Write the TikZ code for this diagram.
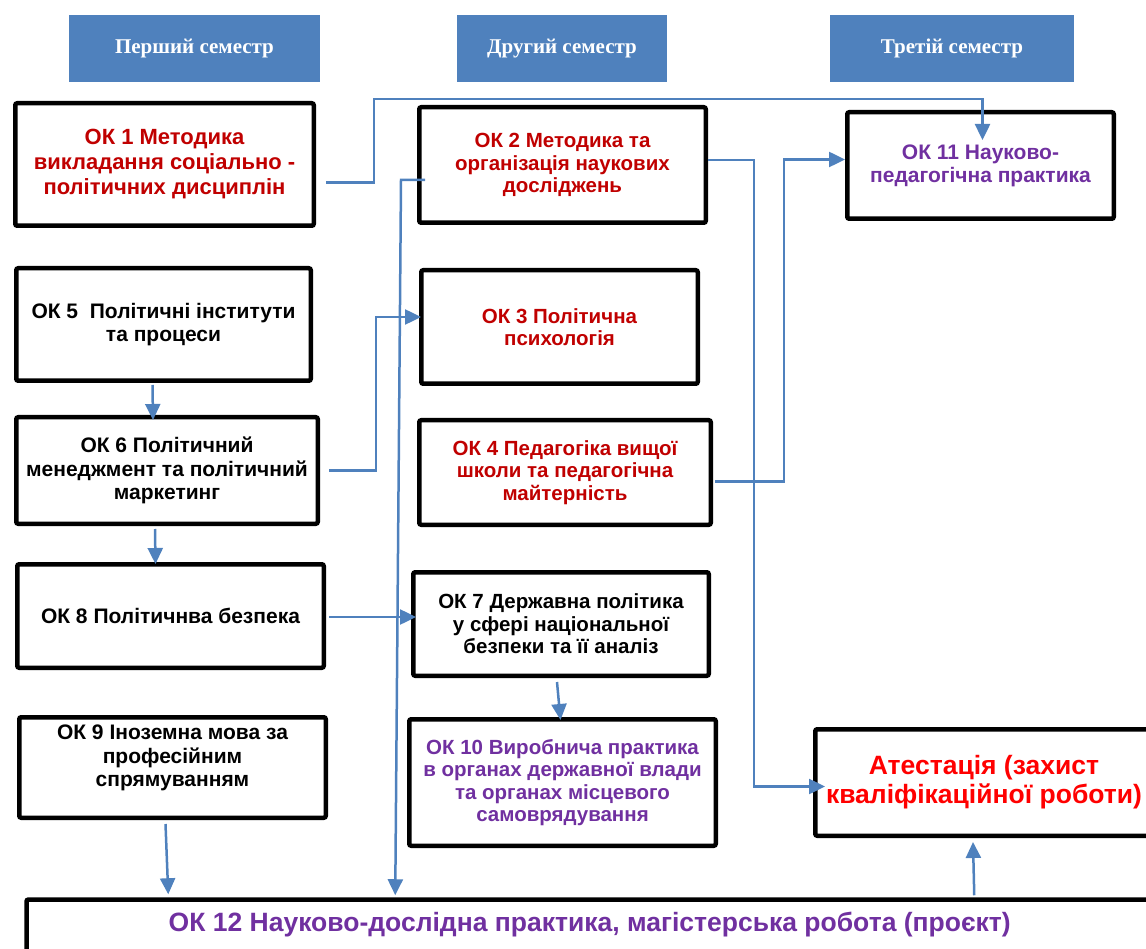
\documentclass[tikz,border=0pt]{standalone}
\usepackage{fontspec}
\setmainfont{Liberation Sans}
\newfontfamily\semfont{Liberation Serif}
\usepackage{tikz}
\definecolor{semBlue}{RGB}{79,129,189}
\definecolor{okRed}{RGB}{192,0,0}
\definecolor{okPurple}{RGB}{112,48,160}
\definecolor{atRed}{RGB}{255,0,0}
\usetikzlibrary{arrows.meta, calc}

\begin{document}
\begin{tikzpicture}[x=1pt, y=-1pt,
    semester/.style={fill=semBlue, text=white, font=\semfont\bfseries\fontsize{21}{24}\selectfont, minimum width=#1, minimum height=67, inner sep=0pt},
    course/.style 2 args={draw=black, line width=4.5pt, rounded corners=2pt, align=center, inner sep=0pt, font=\bfseries\fontsize{21}{23.5}\selectfont, minimum width={#1-4.5}, minimum height={#2-4.5}},
    link/.style={draw=semBlue, line width=2.5pt, -{Triangle[length=16pt, width=15pt]}}]
        \useasboundingbox (0,0) rectangle (1146,949);
        \clip (0,0) rectangle (1146,949);
        \node[semester=251] (sem1) at (194.5,48.5) {Перший семестр};
        \node[semester=210] (sem2) at (562,48.5) {Другий семестр};
        \node[semester=244] (sem3) at (952,48.5) {Третій семестр};
        \node[course={303}{127}, text=okRed, font=\bfseries\fontsize{22}{25}\selectfont] (ok1) at (164.5,164.5) {ОК 1 Методика\\викладання соціально -\\політичних дисциплін};
        \node[course={291}{120}, text=okRed, font=\bfseries\fontsize{20.5}{22.5}\selectfont] (ok2) at (562.5,165) {ОК 2 Методика та\\організація наукових\\досліджень};
        \node[course={271}{111}, text=okPurple, font=\bfseries\fontsize{21}{23}\selectfont] (ok11) at (980.5,165.5) {ОК 11 Науково-\\педагогічна практика};
        \node[course={299}{117}] (ok5) at (163.5,324.5) {ОК 5~~Політичні інститути\\та процеси};
        \node[course={281}{118}, text=okRed, font=\bfseries\fontsize{20.5}{22.5}\selectfont] (ok3) at (559.5,327) {ОК 3 Політична\\психологія};
        \node[course={306}{111}] (ok6) at (167,470.5) {ОК 6 Політичний\\менеджмент та політичний\\маркетинг};
        \node[course={296}{109}, text=okRed, font=\bfseries\fontsize{20.5}{22.5}\selectfont] (ok4) at (565,472.5) {ОК 4 Педагогіка вищої\\школи та педагогічна\\майтерність};
        \node[course={311}{108}] (ok8) at (170.5,616) {ОК 8 Політичнва безпека};
        \node[course={300}{108}, font=\bfseries\fontsize{20.5}{22.5}\selectfont] (ok7) at (561,624) {ОК 7 Державна політика\\у сфері національної\\безпеки та її аналіз};
        \node[course={311}{105}] (ok9) at (172.5,767.5) {ОК 9 Іноземна мова за\\професійним\\спрямуванням\\~};
        \node[course={311}{131}, text=okPurple, font=\bfseries\fontsize{20.5}{22.5}\selectfont] (ok10) at (562.5,782.5) {ОК 10 Виробнича практика\\в органах державної влади\\та органах місцевого\\самоврядування};
        \node[course={342}{111}, text=atRed, font=\bfseries\fontsize{26.5}{29}\selectfont] (att) at (984,782.5) {Атестація (захист\\кваліфікаційної роботи)};
        \node[course={1131}{0}, anchor=north west, text height=32, text depth=35, text=okPurple, font=\bfseries\fontsize{26.5}{29}\selectfont] (ok12) at (24.25,897.25) {ОК 12 Науково-дослідна практика, магістерська робота (проєкт)};
        \draw[link] ($(ok1.east)+(10,18)$) -- ++(48,0) |- ($(ok11.north)+(2,-11)$) -- ($(ok11.north)+(2,30)$);
        \draw[link] ($(ok2.west)+(8,15)$) -- ++(-24,0) -- ($(ok12.north west)+(371,-2)$);
        \draw[link] ($(ok2.east)+(0,-5)$) -- ++(46,0) |- ($(att.west)+(12,4)$);
        \draw[link] ($(ok4.east)+(2,9)$) -- ++(69,0) |- ($(ok11.west)+(0,-6)$);
        \draw[link] ($(ok6.east)+(9,0)$) -- ++(47,0) |- ($(ok3.west)+(2,-10)$);
        \draw[link] ($(ok5.south)+(-11,2)$) -- ($(ok6.north)+(-14,5)$);
        \draw[link] ($(ok6.south)+(-12,3)$) -- ($(ok8.north)+(-15,2)$);
        \draw[link] ($(ok8.east)+(3,1)$) -- ($(ok7.west)+(5,-7)$);
        \draw[link] ($(ok7.south)+(-4,4)$) -- ($(ok10.north)+(-2,3)$);
        \draw[link] ($(ok9.south)+(-7,4)$) -- ($(ok12.north west)+(144,-3)$);
        \draw[link] ($(ok12.north west)+(950,-2)$) -- ($(att.south)+(-11,4)$);
    \end{tikzpicture}
\end{document}
